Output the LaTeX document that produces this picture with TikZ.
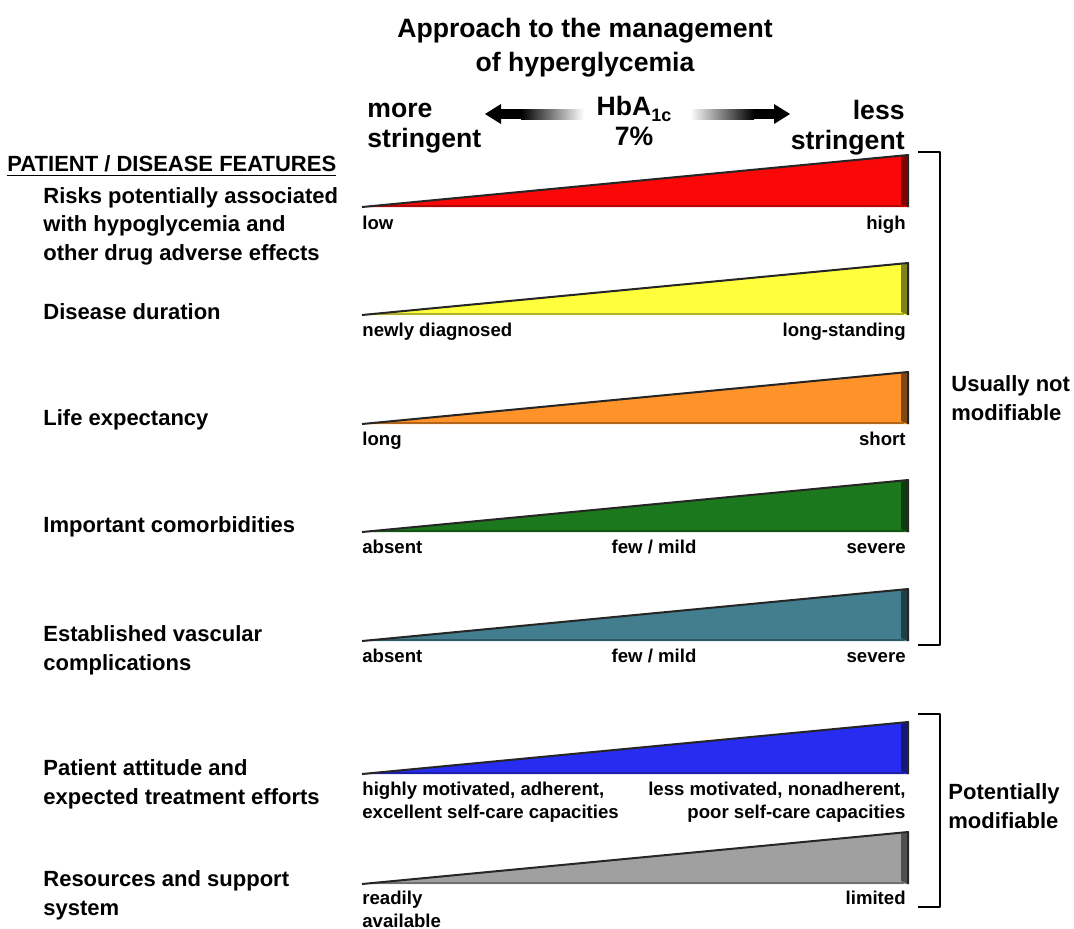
\documentclass[tikz,border=0pt]{standalone}
\usepackage{fontspec}
\setmainfont{Liberation Sans}
\usetikzlibrary{calc}

\definecolor{barred}{RGB}{250,8,8}
\definecolor{baryellow}{RGB}{255,255,60}
\definecolor{barorange}{RGB}{255,146,40}
\definecolor{bargreen}{RGB}{28,120,28}
\definecolor{barteal}{RGB}{66,126,142}
\definecolor{barblue}{RGB}{40,44,240}
\definecolor{bargray}{RGB}{160,160,160}

\tikzset{
  heading/.style={inner sep=0pt, font=\fontsize{13.3}{15}\selectfont\bfseries},
  feature/.style={anchor=west, align=left, inner sep=0pt, font=\fontsize{11}{14.3}\selectfont\bfseries},
  tickl/.style={anchor=base west, align=left, inner sep=0pt, font=\fontsize{9.3}{11.5}\selectfont\bfseries},
  tickr/.style={tickl, anchor=base east, align=right},
  tickc/.style={tickl, anchor=base, align=center},
  brace/.style={line width=1.2pt, line join=round},
}

\begin{document}
\begin{tikzpicture}[x=0.5pt, y=-0.5pt]
  \useasboundingbox (0,0) rectangle (1074,928);
  % title and scale
  \node[heading, align=center, font=\fontsize{13.3}{17}\selectfont\bfseries] (title) at (585,48) {Approach to the management\\of hyperglycemia};
  \node[heading, anchor=west, align=left] (more) at (367,128) {more\\stringent};
  \node[heading, anchor=east, align=right] (less) at (905,128) {less\\stringent};
  \node[heading, align=center] (hba) at (634,121) {HbA\raisebox{-0.45ex}{\fontsize{9}{9}\selectfont 1c}\\7\%};
  % gradient arrows
  \fill (485,114) -- (501,104) -- (501,124) -- cycle;
  \fill (500,109) rectangle (522,119);
  \shade[left color=black, right color=white] (521,109) rectangle (584,119);
  \fill (790,114) -- (774,104) -- (774,124) -- cycle;
  \fill (753,109) rectangle (775,119);
  \shade[left color=white, right color=black] (690,109) rectangle (754,119);
  % features
  \node[anchor=west, inner sep=0pt, font=\fontsize{11}{14}\selectfont\bfseries] (head) at (7,166) {\underline{PATIENT / DISEASE FEATURES}};
  \node[feature] (f1) at (43,226) {Risks potentially associated\\with hypoglycemia and\\other drug adverse effects};
  \node[feature] (f2) at (43,312) {Disease duration};
  \node[feature] (f3) at (43,420) {Life expectancy};
  \node[feature] (f4) at (43,527) {Important comorbidities};
  \node[feature] (f5) at (43,650) {Established vascular\\complications};
  \node[feature] (f6) at (43,784) {Patient attitude and\\expected treatment efforts};
  \node[feature] (f7) at (43,895) {Resources and support\\system};
  % wedges
  \foreach \c/\t in {barred/155, baryellow/263, barorange/372, bargreen/480, barteal/589, barblue/722, bargray/832}{
    \fill[\c] (362,\t+52) -- (908,\t) -- (908,\t+52) -- cycle;
    \draw[\c!70!black, line width=1pt] (372,\t+51) -- (904,\t+51);
    \fill[\c!50!black] (901,\t+2) -- (908,\t) -- (908,\t+52) -- (901,\t+49) -- cycle;
    \draw[black!85, line width=1pt, line join=round] (362,\t+52) -- (908,\t) -- (908,\t+52);
  }
  % scale labels
  \node[tickl] (lo1) at (362,229) {low};
  \node[tickr] (hi1) at (906,229) {high};
  \node[tickl] (lo2) at (362,336) {newly diagnosed};
  \node[tickr] (hi2) at (906,336) {long-standing};
  \node[tickl] (lo3) at (362,445) {long};
  \node[tickr] (hi3) at (906,445) {short};
  \node[tickl] (lo4) at (362,553) {absent};
  \node[tickc] (mid4) at (654,553) {few / mild};
  \node[tickr] (hi4) at (906,553) {severe};
  \node[tickl] (lo5) at (362,662) {absent};
  \node[tickc] (mid5) at (654,662) {few / mild};
  \node[tickr] (hi5) at (906,662) {severe};
  \node[tickl] (lo6) at (362,818) {highly motivated, adherent,\\excellent self-care capacities};
  \node[tickr] (hi6) at (906,818) {less motivated, nonadherent,\\poor self-care capacities};
  \node[tickl] (lo7) at (362,927) {readily\\available};
  \node[tickr] (hi7) at (906,904) {limited};
  % brackets
  \draw[brace] (918,152) -- (940,152) -- (940,645) -- (918,645);
  \draw[brace] (918,714) -- (940,714) -- (940,907) -- (918,907);
  \node[feature] (notmod) at (951,398) {Usually not\\modifiable};
  \node[feature] (potmod) at (948,806) {Potentially\\modifiable};
\end{tikzpicture}
\end{document}
